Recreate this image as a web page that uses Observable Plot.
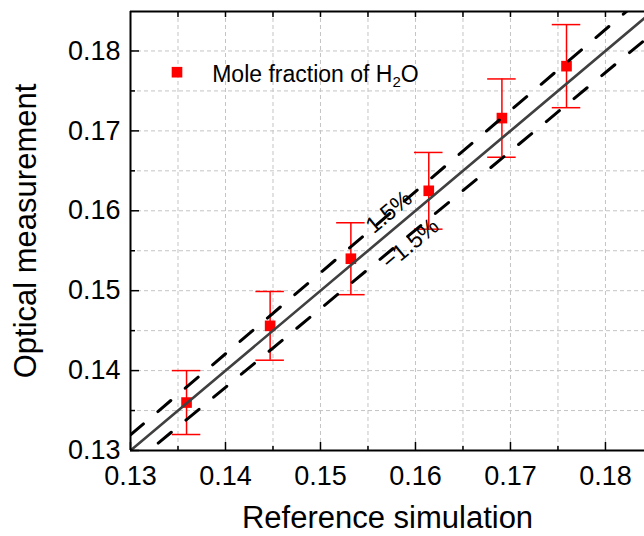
<!DOCTYPE html>
<html><head><meta charset="utf-8">
<script src="https://cdn.jsdelivr.net/npm/d3@7"></script>
<script src="https://cdn.jsdelivr.net/npm/@observablehq/plot@0.6"></script>
<style>
html,body{margin:0;padding:0;background:#fff;}
</style></head><body><div id="chart"></div>
<script>
// ---- data ----
const refSim  = [0.1359, 0.1447, 0.1532, 0.1614, 0.1691, 0.1759];
const optMeas = [0.1360, 0.1456, 0.1540, 0.1625, 0.1716, 0.1781];
const errBar  = [0.0040, 0.0043, 0.0045, 0.0048, 0.0049, 0.0052];
const majorTicks = [0.13, 0.14, 0.15, 0.16, 0.17, 0.18];
const minorTicks = [0.135, 0.145, 0.155, 0.165, 0.175];
const gridTicks  = [0.135, 0.14, 0.145, 0.15, 0.155, 0.16, 0.165, 0.17, 0.175, 0.18];
const xDomain = [0.13, 0.18411];
const yDomain = [0.13, 0.18494];
const refLineX = [0.13, 0.19];
const bandFactors = [1, 1.015, 0.985];
const bandLabels = ["1.5%", "\u22121.5%"];
const bandLabelX = [0.15721, 0.15947];
const bandLabelY = [0.15985, 0.15584];
const legendLabel = "Mole fraction of H2O";
const xTitle = "Reference simulation";
const yTitle = "Optical measurement";

// ---- derived tables ----
const points = refSim.map((x, i) => ({x, y: optMeas[i], e: errBar[i]}));
const refLines = bandFactors.flatMap((f, k) => refLineX.map(x => ({x, y: x * f, k})));
const labels = bandLabels.map((t, i) => ({t, x: bandLabelX[i], y: bandLabelY[i]}));
const capHalf = 0.0015;
const fmt = d3.format(".2f");
const red = "#ff0000";

const svg = Plot.plot({
  width: 644,
  height: 536,
  marginLeft: 130,
  marginRight: 0,
  marginTop: 11,
  marginBottom: 86,
  x: {domain: xDomain},
  y: {domain: yDomain},
  style: {fontFamily: "'Liberation Sans', Arial, sans-serif", color: "black", background: "white"},
  marks: [
    Plot.ruleX(gridTicks, {stroke: "#c4c4c4", strokeWidth: 1, strokeDasharray: "4,3"}),
    Plot.ruleY(gridTicks, {stroke: "#c4c4c4", strokeWidth: 1, strokeDasharray: "4,3"}),
    // error bars
    Plot.ruleX(points, {x: "x", y1: d => d.y - d.e, y2: d => d.y + d.e, stroke: red, strokeWidth: 1.5}),
    Plot.ruleY(points, {y: d => d.y + d.e, x1: d => d.x - capHalf, x2: d => d.x + capHalf, stroke: red, strokeWidth: 1.5}),
    Plot.ruleY(points, {y: d => d.y - d.e, x1: d => d.x - capHalf, x2: d => d.x + capHalf, stroke: red, strokeWidth: 1.5}),
    Plot.dot(points, {x: "x", y: "y", symbol: "square", r: 6, fill: red, stroke: "none"}),
    // reference lines
    Plot.line(refLines.filter(d => d.k === 0), {x: "x", y: "y", stroke: "#404040", strokeWidth: 2.6, clip: true}),
    Plot.line(refLines.filter(d => d.k > 0), {x: "x", y: "y", z: "k", stroke: "black", strokeWidth: 3, strokeDasharray: "17,19", clip: true}),
    Plot.text(labels, {x: "x", y: "y", text: "t", rotate: -40, fontSize: 23, lineAnchor: "middle", fill: "black"}),
    // axes
    Plot.ruleX([xDomain[0]], {stroke: "black", strokeWidth: 2}),
    Plot.ruleY([yDomain[0]], {stroke: "black", strokeWidth: 2}),
    Plot.ruleY([yDomain[1]], {stroke: "black", strokeWidth: 2}),
    Plot.axisX(majorTicks, {anchor: "bottom", tickSize: -8, tickPadding: 23, fontSize: 27, tickFormat: fmt, label: null, strokeWidth: 1.5}),
    Plot.axisX(minorTicks, {anchor: "bottom", tickSize: -4, tickFormat: () => "", label: null, strokeWidth: 1.5}),
    Plot.axisX(gridTicks, {anchor: "top", tickSize: -5, tickFormat: () => "", label: null, strokeWidth: 1.5}),
    Plot.axisY(majorTicks, {anchor: "left", tickSize: -9, tickPadding: 19, fontSize: 27, tickFormat: fmt, label: null, strokeWidth: 1.5}),
    Plot.axisY(minorTicks, {anchor: "left", tickSize: -5, tickFormat: () => "", label: null, strokeWidth: 1.5}),
    // axis titles
    Plot.text([xTitle], {frameAnchor: "bottom", dy: 77, lineAnchor: "bottom", textAnchor: "middle", fontSize: 31, text: d => d, fill: "black"}),
    Plot.text([yTitle], {frameAnchor: "left", dx: -104, rotate: -90, lineAnchor: "middle", textAnchor: "middle", fontSize: 31, text: d => d, fill: "black"}),
    // legend
    Plot.dot([legendLabel], {frameAnchor: "top-left", dx: 46.5, dy: 60.7, symbol: "square", r: 6, fill: red, stroke: "none"}),
    Plot.text([legendLabel], {frameAnchor: "top-left", dx: 81.7, dy: 70, textAnchor: "start", lineAnchor: "bottom", fontSize: 23, text: d => d, fill: "black"})
  ]
});

// subscript in legend
const ns = "http://www.w3.org/2000/svg";
for (const t of svg.querySelectorAll("text")) {
  if (t.textContent === legendLabel) {
    t.textContent = "";
    const a = document.createElementNS(ns, "tspan"); a.textContent = "Mole fraction of H";
    const b = document.createElementNS(ns, "tspan"); b.textContent = "2"; b.setAttribute("dy", "5"); b.setAttribute("font-size", "15");
    const c = document.createElementNS(ns, "tspan"); c.textContent = "O"; c.setAttribute("dy", "-5");
    t.append(a, b, c);
  }
}
document.getElementById("chart").append(svg);
</script></body></html>
